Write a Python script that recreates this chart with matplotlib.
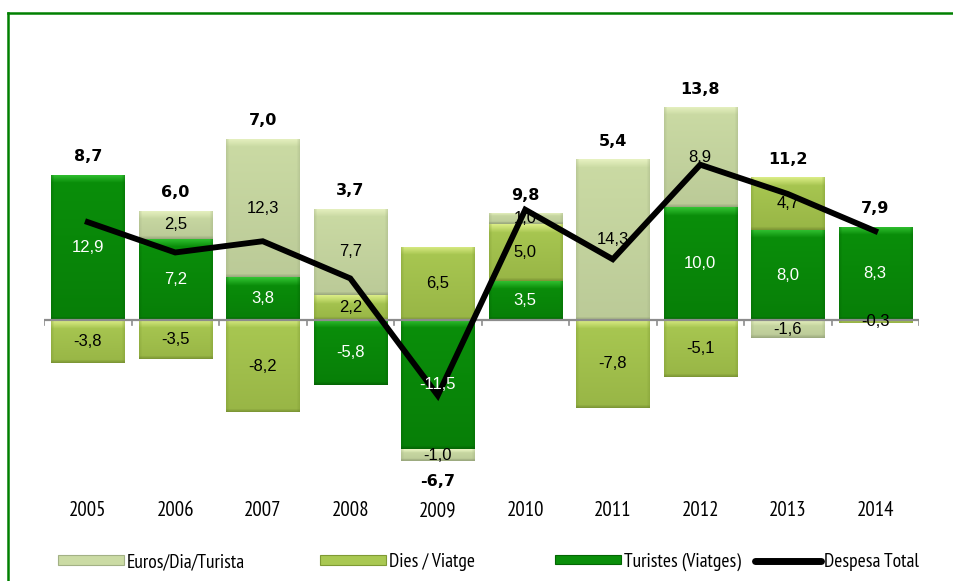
import numpy as np
import matplotlib
matplotlib.use('Agg')
import matplotlib.pyplot as plt
from matplotlib.patches import Patch, Rectangle
from matplotlib.lines import Line2D
from matplotlib.colors import to_rgb
import matplotlib.transforms as mtransforms

# Data (variation %)
years = ['2005', '2006', '2007', '2008', '2009', '2010', '2011', '2012', '2013', '2014']
turistes = [12.9, 7.2, 3.8, -5.8, -11.5, 3.5, 0.0, 10.0, 8.0, 8.3]
dies_viatge = [-3.8, -3.5, -8.2, 2.2, 6.5, 5.0, -7.8, -5.1, 4.7, -0.3]
euros_dia = [0.0, 2.5, 12.3, 7.7, -1.0, 1.0, 14.3, 8.9, -1.6, 0.0]
despesa_total = [8.7, 6.0, 7.0, 3.7, -6.7, 9.8, 5.4, 13.8, 11.2, 7.9]

NARROW = ['PT Sans Narrow', 'Roboto Condensed', 'Archivo Narrow', 'DejaVu Sans']

# stack order (bottom first): Turistes, Dies, Euros
series = [
    ('Turistes (Viatges)', turistes, ('#37c837', '#0a8f0a', '#046604'), 'white'),
    ('Dies / Viatge', dies_viatge, ('#dff08a', '#a9c852', '#7f9a34'), 'black'),
    ('Euros/Dia/Turista', euros_dia, ('#eaf4c4', '#cbdba4', '#a3b185'), 'black'),
]

W, H = 954, 581
fig = plt.figure(figsize=(W / 100, H / 100), dpi=100)

# green frame (top and left edges visible)
fig.add_artist(Line2D([8 / W, 8 / W], [0, 1 - 13 / H], color='#008000', lw=1.8,
                      transform=fig.transFigure))
fig.add_artist(Line2D([8 / W, 1], [1 - 13 / H, 1 - 13 / H], color='#008000', lw=1.8,
                      transform=fig.transFigure))

ax = fig.add_axes([44 / W, (H - 490) / H, 875 / W, 430 / H])
ax.set_xlim(-0.5, len(years) - 0.5)
ax.set_ylim(-15.1, 23.1)
ax.axis('off')

x = np.arange(len(years))
bar_w = 0.84
px_per_x = 875 / len(years)
px_per_y = 430 / (23.1 + 15.1)


def bevel_image(h_px, w_px, colors):
    top, mid, bot = [np.array(to_rgb(c)) for c in colors]
    ny, nx = max(int(h_px), 2), max(int(w_px), 2)
    t = np.linspace(0, 1, ny)[:, None]
    body = mid[None, :] * (1 - 0.4 * t) + bot[None, :] * (0.4 * t)
    img = np.repeat(body[:, None, :], nx, axis=1)
    band = min(8, ny // 3)
    for r in range(band):
        a = 0.9 * (1 - r / max(band, 1))
        img[r] = img[r] * (1 - a) + top * a
    edge = min(3, nx // 6)
    for c in range(edge):
        a = 0.4 * (1 - c / max(edge, 1))
        img[:, c] = img[:, c] * (1 - a) + bot * a
        img[:, -1 - c] = img[:, -1 - c] * (1 - a) + bot * a
    for r in range(min(3, ny // 4)):
        a = 0.6 * (1 - r / 3)
        img[-1 - r] = img[-1 - r] * (1 - a) + bot * a * 0.85
    return np.clip(img, 0, 1)


pos_base = np.zeros(len(years))
neg_base = np.zeros(len(years))
for name, vals, cols, tcol in series:
    vals = np.array(vals)
    for i, v in enumerate(vals):
        if v == 0:
            continue
        if v > 0:
            y0, y1 = pos_base[i], pos_base[i] + v
            pos_base[i] = y1
        else:
            y0, y1 = neg_base[i] + v, neg_base[i]
            neg_base[i] = y0
        rect = Rectangle((x[i] - bar_w / 2, y0), bar_w, y1 - y0, facecolor=cols[1],
                         edgecolor='none', zorder=2)
        ax.add_patch(rect)
        img = bevel_image((y1 - y0) * px_per_y, bar_w * px_per_x, cols)
        im = ax.imshow(img, extent=(x[i] - bar_w / 2, x[i] + bar_w / 2, y0, y1),
                       aspect='auto', zorder=2, interpolation='bilinear')
        im.set_clip_path(rect)
        ax.text(x[i], (y0 + y1) / 2, f'{v:.1f}'.replace('.', ','), ha='center',
                va='center', color=tcol, fontsize=12, family=['Liberation Sans', 'DejaVu Sans'],
                zorder=5)

# zero axis with category ticks
ax.plot([-0.5, len(years) - 0.5], [0, 0], color='#8c8c8c', lw=1.6, zorder=3,
        solid_capstyle='butt')
for b in np.arange(-0.5, len(years), 1.0):
    ax.plot([b, b], [0, -0.45], color='#8c8c8c', lw=1.2, zorder=3)

# total line
ax.plot(x, despesa_total, color='black', lw=4.2, zorder=4, solid_joinstyle='miter')

# total labels
for i, v in enumerate(despesa_total):
    txt = f'{v:.1f}'.replace('.', ',')
    if v >= 0:
        ax.annotate(txt, (x[i], pos_base[i]), xytext=(0, 13), textcoords='offset points',
                    ha='center', va='center', fontsize=11.5, fontweight='bold',
                    family='DejaVu Sans', zorder=6)
    else:
        ax.annotate(txt, (x[i], neg_base[i]), xytext=(0, -15), textcoords='offset points',
                    ha='center', va='center', fontsize=11.5, fontweight='bold',
                    family='DejaVu Sans', zorder=6)

# year labels
trans = mtransforms.blended_transform_factory(ax.transData, ax.transAxes)
for i, yr in enumerate(years):
    ax.text(x[i], -21 / 430, yr, transform=trans, ha='center', va='center',
            fontsize=15, family=NARROW)

# legend, one entry per box to match spacing
legend_items = [
    (Patch(facecolor=series[2][2][1], edgecolor=series[2][2][2], lw=0.8), 'Euros/Dia/Turista', 58),
    (Patch(facecolor=series[1][2][1], edgecolor=series[1][2][2], lw=0.8), 'Dies / Viatge', 320),
    (Patch(facecolor=series[0][2][1], edgecolor=series[0][2][2], lw=0.8), 'Turistes (Viatges)', 555),
    (Line2D([], [], color='black', lw=5, solid_capstyle='round'), 'Despesa Total', 755),
]
for handle, label, xpx in legend_items:
    leg = fig.legend([handle], [label], loc='center left',
                     bbox_to_anchor=(xpx / W, (H - 562) / H), frameon=False,
                     handlelength=3.4, handleheight=0.35, handletextpad=0.15,
                     borderaxespad=0, borderpad=0,
                     prop={'family': NARROW, 'size': 14})

fig.savefig('out.png', dpi=100)
